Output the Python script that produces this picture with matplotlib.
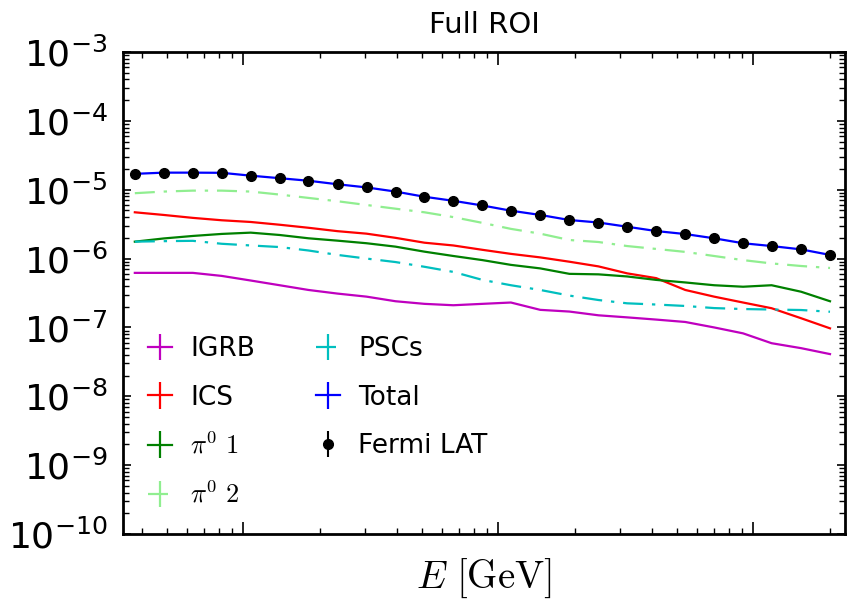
import numpy as np
import matplotlib
matplotlib.use('Agg')
import matplotlib.pyplot as plt
from matplotlib.ticker import LogLocator, NullFormatter

plt.rcParams['font.family'] = ['DejaVu Sans']
plt.rcParams['axes.unicode_minus'] = False

# energy bins [GeV]
energy = [0.375, 0.487, 0.633, 0.822, 1.068, 1.387, 1.80, 2.34, 3.04, 3.95,
          5.13, 6.66, 8.66, 11.2, 14.6, 19.0, 24.7, 32.0, 41.6, 54.1,
          70.2, 91.2, 118.0, 154.0, 200.0]

# flux components
igrb = [6.2e-7, 6.2e-7, 6.2e-7, 5.6e-7, 4.8e-7, 4.1e-7, 3.5e-7, 3.1e-7, 2.8e-7, 2.4e-7,
        2.2e-7, 2.1e-7, 2.2e-7, 2.3e-7, 1.8e-7, 1.7e-7, 1.5e-7, 1.4e-7, 1.3e-7, 1.2e-7,
        1.0e-7, 8.2e-8, 5.9e-8, 5.0e-8, 4.1e-8]
ics = [4.7e-6, 4.3e-6, 3.9e-6, 3.6e-6, 3.4e-6, 3.1e-6, 2.8e-6, 2.5e-6, 2.3e-6, 2.0e-6,
       1.7e-6, 1.55e-6, 1.34e-6, 1.17e-6, 1.04e-6, 9.0e-7, 7.7e-7, 6.1e-7, 5.2e-7, 3.5e-7,
       2.8e-7, 2.3e-7, 1.9e-7, 1.36e-7, 9.7e-8]
pi0_1 = [1.76e-6, 1.96e-6, 2.13e-6, 2.28e-6, 2.38e-6, 2.2e-6, 1.97e-6, 1.82e-6, 1.67e-6, 1.49e-6,
         1.26e-6, 1.09e-6, 9.5e-7, 8.1e-7, 7.2e-7, 6.0e-7, 5.9e-7, 5.5e-7, 4.9e-7, 4.5e-7,
         4.1e-7, 3.9e-7, 4.1e-7, 3.3e-7, 2.4e-7]
pi0_2 = [8.9e-6, 9.4e-6, 9.7e-6, 9.7e-6, 9.4e-6, 8.5e-6, 7.6e-6, 6.8e-6, 6.0e-6, 5.3e-6,
         4.7e-6, 4.0e-6, 3.3e-6, 2.7e-6, 2.3e-6, 1.86e-6, 1.74e-6, 1.52e-6, 1.38e-6, 1.25e-6,
         1.09e-6, 9.5e-7, 8.5e-7, 7.8e-7, 7.3e-7]
pscs = [1.76e-6, 1.79e-6, 1.81e-6, 1.64e-6, 1.55e-6, 1.47e-6, 1.31e-6, 1.13e-6, 1.0e-6, 8.9e-7,
        7.6e-7, 6.4e-7, 4.9e-7, 4.1e-7, 3.5e-7, 2.9e-7, 2.5e-7, 2.24e-7, 2.15e-7, 2.05e-7,
        1.91e-7, 1.85e-7, 1.82e-7, 1.79e-7, 1.69e-7]
total = [1.70e-5, 1.77e-5, 1.77e-5, 1.76e-5, 1.60e-5, 1.47e-5, 1.35e-5, 1.20e-5, 1.08e-5, 9.4e-6,
         7.9e-6, 6.9e-6, 5.9e-6, 4.96e-6, 4.3e-6, 3.63e-6, 3.34e-6, 2.9e-6, 2.51e-6, 2.27e-6,
         1.97e-6, 1.67e-6, 1.52e-6, 1.36e-6, 1.13e-6]
fermi = [1.69e-5, 1.77e-5, 1.77e-5, 1.77e-5, 1.60e-5, 1.47e-5, 1.35e-5, 1.20e-5, 1.08e-5, 9.4e-6,
         7.9e-6, 6.9e-6, 5.9e-6, 4.96e-6, 4.3e-6, 3.63e-6, 3.34e-6, 2.9e-6, 2.51e-6, 2.27e-6,
         1.97e-6, 1.67e-6, 1.52e-6, 1.36e-6, 1.13e-6]
fermi_err = [5e-7, 5e-7, 5e-7, 5e-7, 4e-7, 4e-7, 3e-7, 3e-7, 3e-7, 2e-7,
             2e-7, 2e-7, 1.5e-7, 1.3e-7, 1.1e-7, 1e-7, 9e-8, 8e-8, 7e-8, 7e-8,
             6e-8, 6e-8, 5e-8, 5e-8, 5e-8]

fig = plt.figure(figsize=(8.49, 6.09), dpi=100)
ax = fig.add_axes([123/849, 1-534/609, (845-123)/849, (534-52)/609])

dashdot = (0, (9, 4, 1.5, 4))
lw = 1.6
ax.errorbar(energy, igrb, yerr=0, color='m', lw=lw, label='IGRB')
ax.errorbar(energy, ics, yerr=0, color='r', lw=lw, label='ICS')
ax.errorbar(energy, pi0_1, yerr=0, color='g', lw=lw, label=r'$\pi^0\ 1$')
ax.errorbar(energy, pi0_2, yerr=0, color='lightgreen', lw=lw, ls=dashdot, label=r'$\pi^0\ 2$')
ax.errorbar(energy, pscs, yerr=0, color='c', lw=lw, ls=dashdot, label='PSCs')
ax.errorbar(energy, total, yerr=0, color='b', lw=lw, label='Total')
ax.errorbar(energy, fermi, yerr=fermi_err, fmt='o', color='k', ms=7, lw=1.5, label='Fermi LAT', zorder=5)

ax.set_xscale('log')
ax.set_yscale('log')
ax.set_xlim(0.337, 229)
ax.set_ylim(1e-10, 1e-3)

ax.yaxis.set_major_locator(LogLocator(base=10, numticks=20))
ax.yaxis.set_minor_locator(LogLocator(base=10, subs=np.arange(2, 10), numticks=100))
ax.yaxis.set_minor_formatter(NullFormatter())
# no energy tick labels in the original
ax.xaxis.set_major_formatter(NullFormatter())
ax.xaxis.set_minor_formatter(NullFormatter())
ax.tick_params(which='both', direction='in', top=True, right=True, labelbottom=False)
ax.tick_params(axis='x', which='major', length=9, width=1.2)
ax.tick_params(axis='x', which='minor', length=4.5, width=1.0)
ax.tick_params(axis='y', which='major', length=6, width=1.2, labelsize=26, pad=11)
ax.tick_params(axis='y', which='minor', length=4, width=1.0)
for s in ax.spines.values():
    s.set_linewidth(2)

ax.set_title('Full ROI', fontsize=21, pad=14)
ax.set_xlabel(r'$E\ [\mathrm{GeV}]$', fontsize=28, labelpad=16, math_fontfamily='cm')

leg = ax.legend(ncol=2, loc='lower left', bbox_to_anchor=(0.02, 0.03), borderaxespad=0,
                frameon=False, fontsize=19, handlelength=0.9, handletextpad=0.7,
                columnspacing=2.3, labelspacing=0.85, numpoints=1)
for t in leg.get_texts():
    t.set_math_fontfamily('cm')

fig.savefig('out.png', dpi=100)
